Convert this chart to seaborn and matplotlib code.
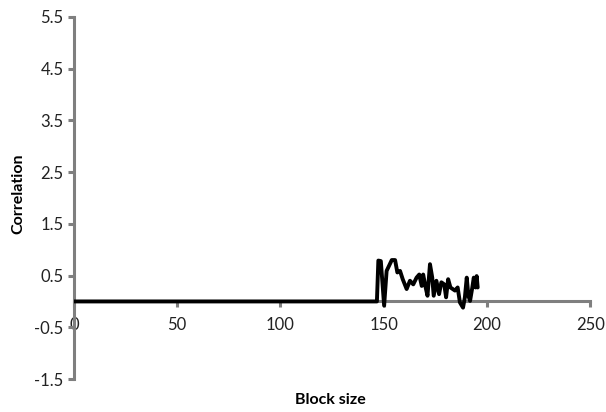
import matplotlib
matplotlib.use("Agg")
import matplotlib.pyplot as plt
import seaborn as sns
import numpy as np
import pandas as pd

# block size vs correlation
block_size = [0, 146, 146.7, 147.4, 148.6, 150.2, 151.4, 153.9, 155.5, 156.6, 157.9,
              159.2, 161.1, 162.7, 164.3, 165.9, 167.2, 168.4, 169.1, 170.3, 171.2,
              172.4, 173.5, 174.2, 175.5, 176.8, 177.9, 179.3, 180.2, 181.2, 182.3,
              183.4, 184.5, 185.8, 186.9, 188.4, 189.3, 190.2, 191.0, 191.8, 192.9,
              193.6, 194.5, 195.0, 195.5]
correlation = [0, 0, 0, 0.79, 0.78, -0.08, 0.59, 0.80, 0.80, 0.56, 0.59,
               0.43, 0.24, 0.40, 0.33, 0.46, 0.52, 0.30, 0.52, 0.27, 0.11,
               0.72, 0.46, 0.11, 0.40, 0.14, 0.37, 0.33, 0.08, 0.43, 0.27,
               0.24, 0.21, 0.27, -0.02, -0.12, 0.08, 0.46, 0.11, 0.01, 0.27,
               0.46, 0.27, 0.49, 0.27]

x_ticks = [0, 50, 100, 150, 200, 250]
y_ticks = [-1.5, -0.5, 0.5, 1.5, 2.5, 3.5, 4.5, 5.5]

df = pd.DataFrame({"Block size": block_size, "Correlation": correlation})

sns.set_style("ticks")
plt.rcParams["font.family"] = ["Lato", "DejaVu Sans"]

fig = plt.figure(figsize=(6.06, 4.12), dpi=100)
ax = fig.add_axes([0.122, 0.080, 0.852, 0.879])

sns.lineplot(data=df, x="Block size", y="Correlation", color="black",
             linewidth=2.8, ax=ax, zorder=3)

ax.set_xlim(0, 250)
ax.set_ylim(-1.5, 5.5)
ax.set_xticks(x_ticks)
ax.set_yticks(y_ticks)
ax.set_yticklabels([str(v) for v in y_ticks])

grey = "#7f7f7f"
for side in ["top", "right"]:
    ax.spines[side].set_visible(False)
ax.spines["bottom"].set_position(("data", 0))
for side in ["left", "bottom"]:
    ax.spines[side].set_color(grey)
    ax.spines[side].set_linewidth(2.2)

ax.tick_params(axis="both", colors=grey, labelcolor="#222222", labelsize=12,
               length=4, width=2.2, direction="out")
ax.tick_params(axis="x", pad=7)

ax.set_xlabel("")
ax.set_ylabel("")
fig.text(0.545, 0.03, "Block size", ha="center", va="center",
         fontsize=11.5, fontweight="bold", color="black")
fig.text(0.03, 0.53, "Correlation", ha="center", va="center", rotation=90,
         fontsize=11.5, fontweight="bold", color="black")

fig.savefig("out.png", dpi=100)
